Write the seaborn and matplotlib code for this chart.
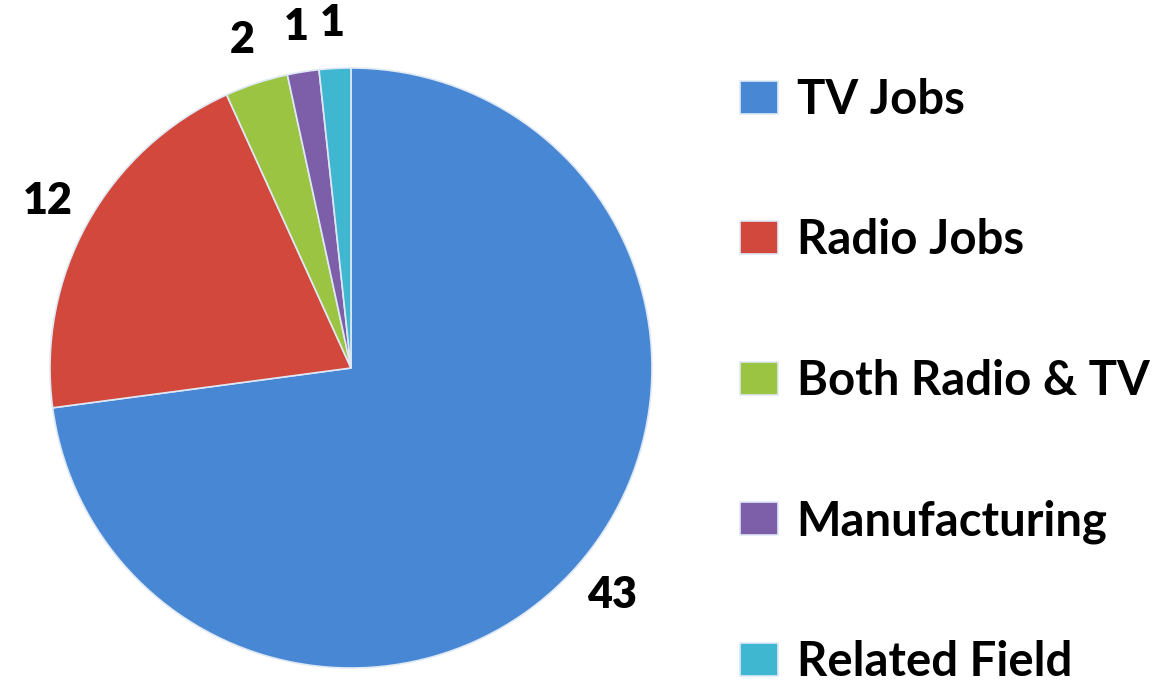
import matplotlib
matplotlib.use("Agg")
import matplotlib.pyplot as plt
import seaborn as sns

categories = ["TV Jobs", "Radio Jobs", "Both Radio & TV", "Manufacturing", "Related Field"]
counts = [43, 12, 2, 1, 1]
colors = ["#4887d4", "#d2483c", "#9cc443", "#7d5ea9", "#3fb7d0"]

sns.set_theme(style="white")
plt.rcParams['font.family'] = ['Lato', 'DejaVu Sans']
plt.rcParams['font.weight'] = 'bold'
plt.rcParams['text.color'] = 'black'

total = sum(counts)

fig = plt.figure(figsize=(11.66, 6.87), dpi=100)
# axes box hugs the pie
ax = fig.add_axes([50/1166, 19/687, 602/1166, 600/687])

wedges, texts, autotexts = ax.pie(
    counts,
    colors=sns.color_palette(colors),
    startangle=90,
    counterclock=False,
    radius=1.0,
    autopct=lambda p: f"{round(p*total/100)}",
    pctdistance=1.15,
    wedgeprops=dict(edgecolor="#dfe9f5", linewidth=1.2),
)
plt.setp(autotexts, fontsize=31, fontweight="heavy", color="black")
ax.set_xlim(-1, 1)
ax.set_ylim(-1, 1)
ax.set_aspect("auto")
ax.axis("off")

leg = fig.legend(
    wedges, categories,
    loc="upper left",
    bbox_to_anchor=(740/1166, 1 - 78/687),
    frameon=False,
    fontsize=34,
    handlelength=0.8,
    handleheight=0.7,
    handletextpad=0.4,
    labelspacing=2.04,
    borderaxespad=0,
    borderpad=0,
)
for t in leg.get_texts():
    t.set_color("black")

plt.savefig("out.png", dpi=100, facecolor="white")
